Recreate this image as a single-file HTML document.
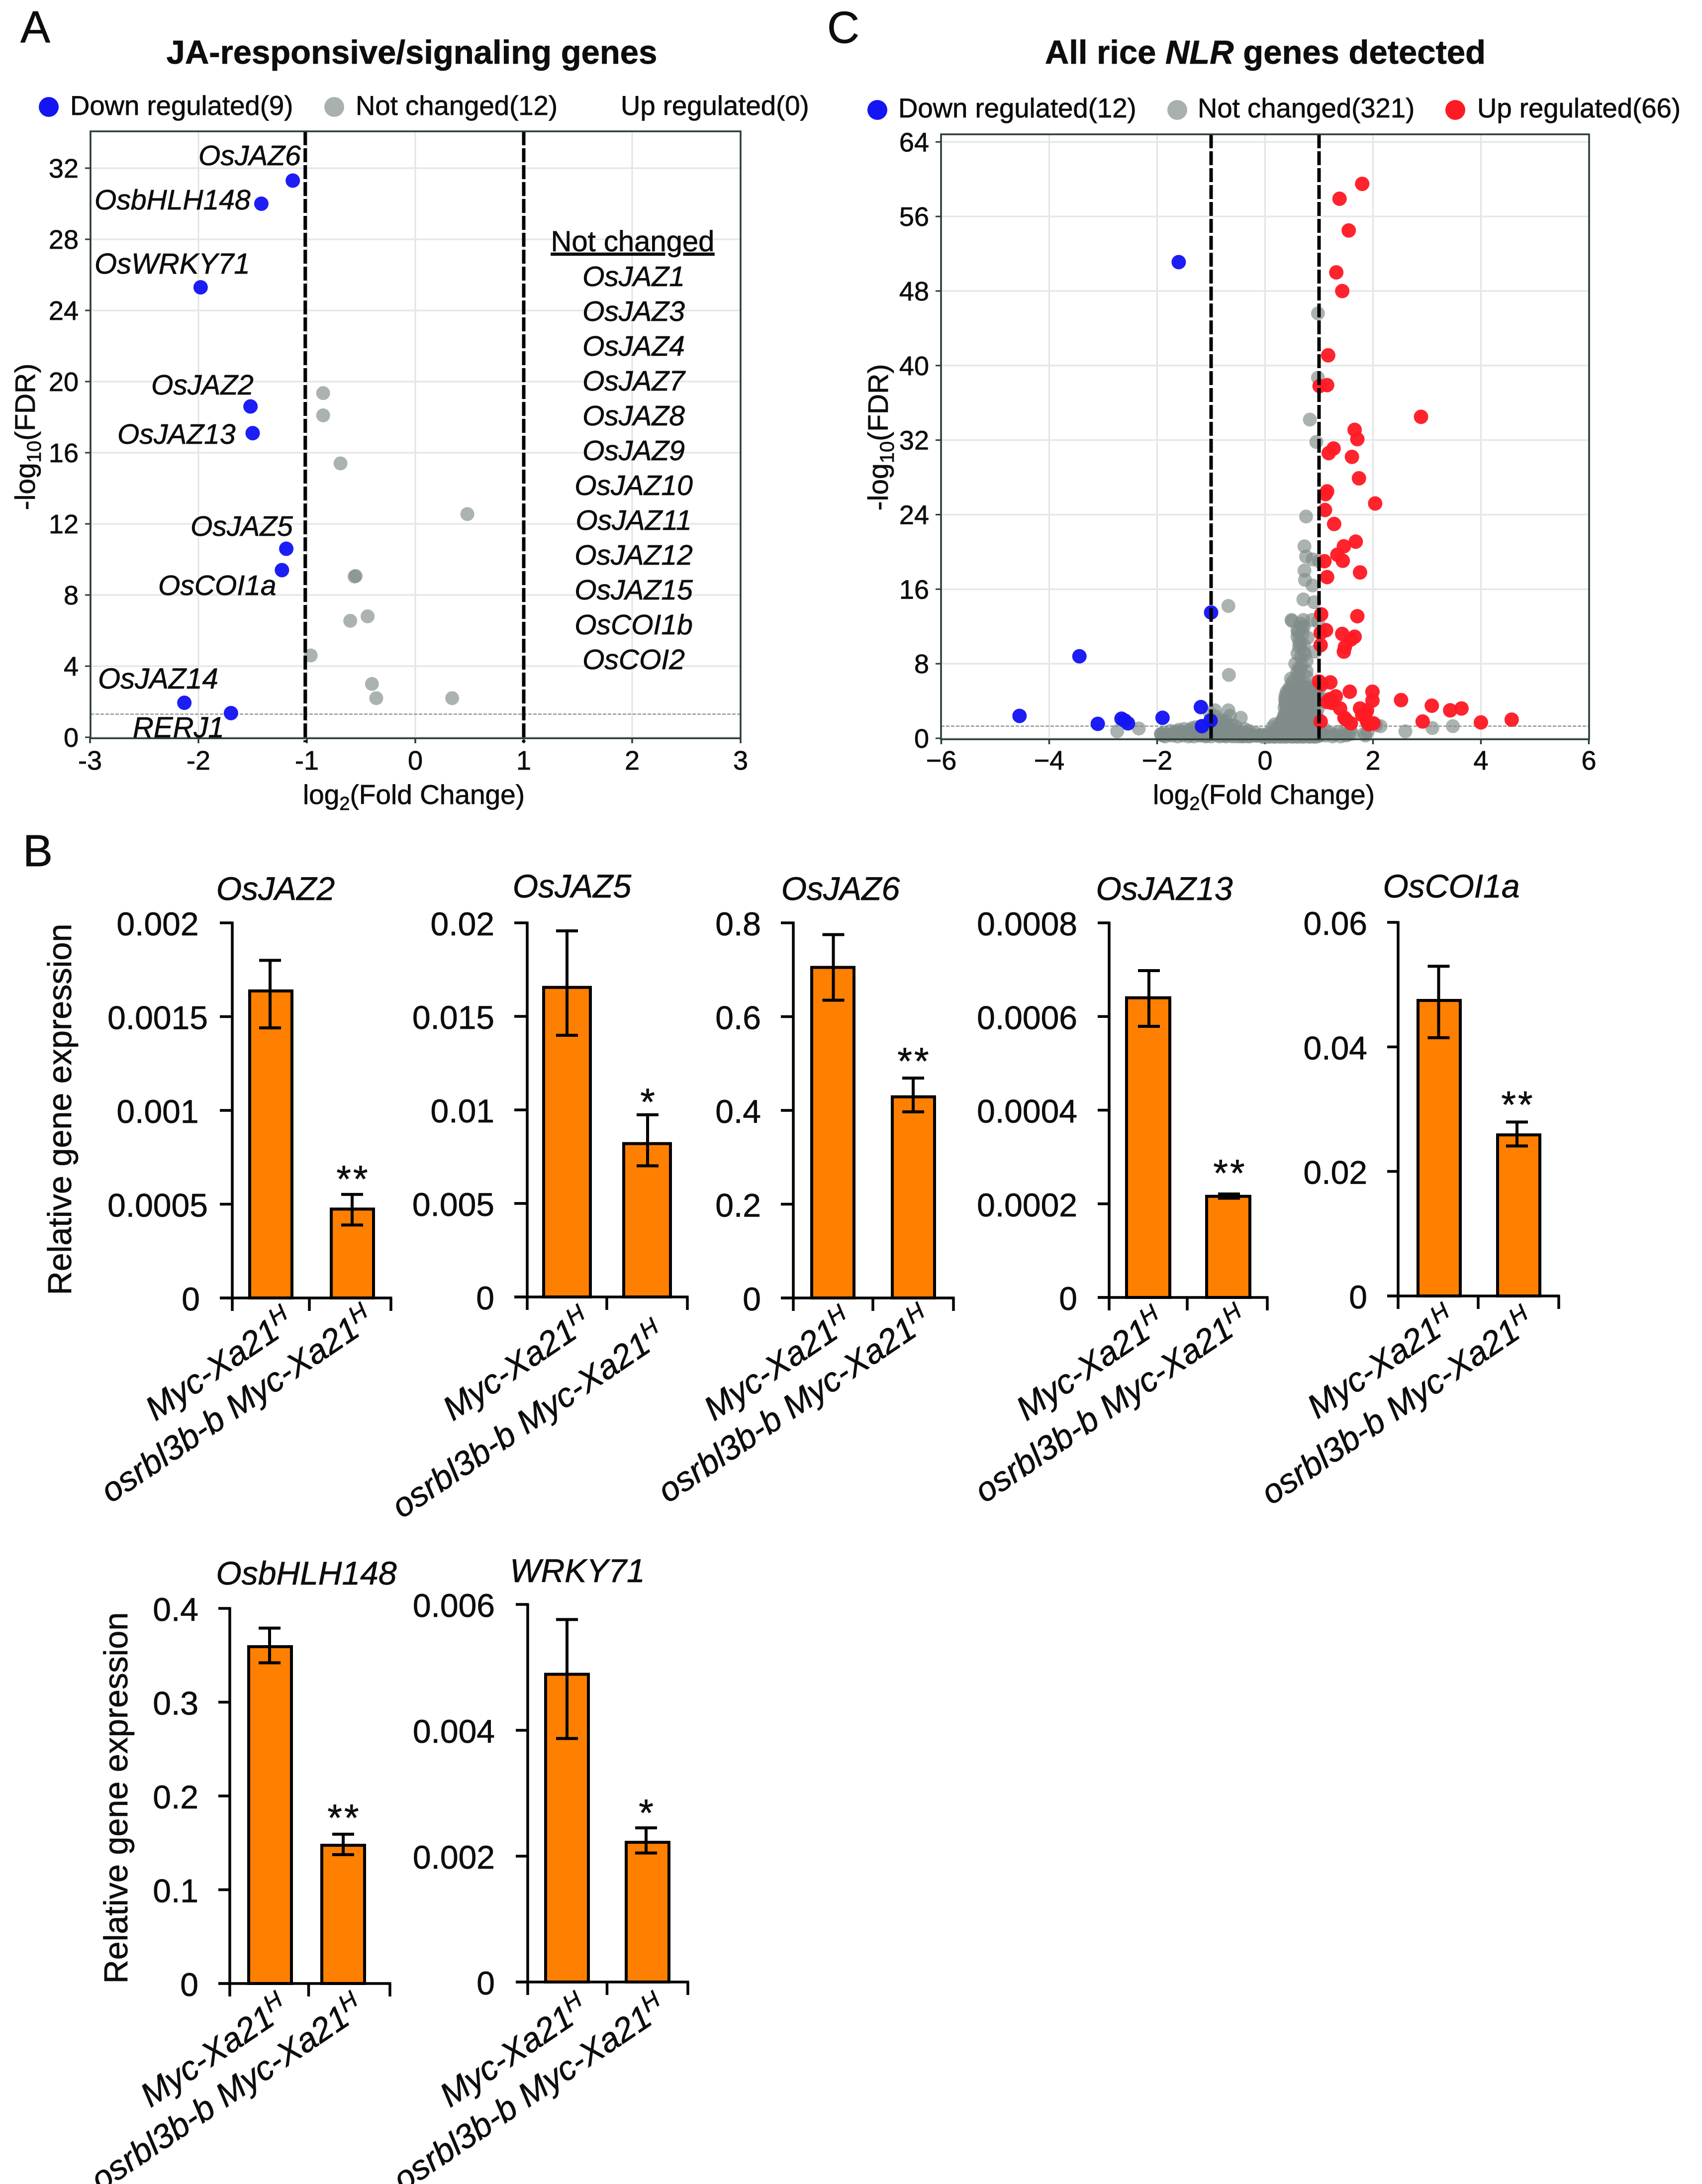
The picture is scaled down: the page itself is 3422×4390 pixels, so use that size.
<!DOCTYPE html>
<html lang="en">
<head>
<meta charset="utf-8">
<title>JA-responsive and NLR gene expression figure</title>
<style>
html,body{margin:0;padding:0;background:#fff;}
svg{display:block;}
text{font-family:"Liberation Sans",sans-serif;fill:#0d0d0d;stroke:#0d0d0d;stroke-width:0.7px;}
.it{font-style:italic;}
</style>
</head>
<body>
<svg id="figure" xmlns="http://www.w3.org/2000/svg" width="3422" height="4390" viewBox="0 0 3422 4390">
<rect x="0" y="0" width="3422" height="4390" fill="#fff"/>

<text x="41" y="85" font-size="90">A</text>
<text x="46" y="1741" font-size="90">B</text>
<text x="1663" y="86" font-size="90">C</text>

<text x="828" y="128" font-size="67" font-weight="bold" text-anchor="middle">JA-responsive/signaling genes</text>
<text x="2544" y="128" font-size="67" font-weight="bold" text-anchor="middle">All rice <tspan font-style="italic">NLR</tspan> genes detected</text>

<g id="panel-a"></g>
<g id="panel-c"></g>

<circle cx="98" cy="215" r="20" fill="#1414f5"/>
<text x="141" y="231" font-size="54.5">Down regulated(9)</text>
<circle cx="672" cy="215" r="20" fill="#a9b1ad"/>
<text x="715" y="231" font-size="54.5">Not changed(12)</text>
<text x="1248" y="231" font-size="54.5">Up regulated(0)</text>

<circle cx="1764" cy="221" r="20" fill="#1414f5"/>
<text x="1806" y="236" font-size="54.5">Down regulated(12)</text>
<circle cx="2367" cy="221" r="20" fill="#a9b1ad"/>
<text x="2408" y="236" font-size="54.5">Not changed(321)</text>
<circle cx="2926" cy="221" r="20" fill="#ff1a24"/>
<text x="2970" y="236" font-size="54.5">Up regulated(66)</text>

<text x="832" y="1616" font-size="55" text-anchor="middle">log<tspan dy="12" font-size="38">2</tspan><tspan dy="-12">(Fold Change)</tspan></text>
<text transform="translate(70,878) rotate(-90)" font-size="57" text-anchor="middle">-log<tspan dy="12" font-size="40">10</tspan><tspan dy="-12">(FDR)</tspan></text>
<text x="2541" y="1616" font-size="55" text-anchor="middle">log<tspan dy="12" font-size="38">2</tspan><tspan dy="-12">(Fold Change)</tspan></text>
<text transform="translate(1785,879) rotate(-90)" font-size="57" text-anchor="middle">-log<tspan dy="12" font-size="40">10</tspan><tspan dy="-12">(FDR)</tspan></text>

<g font-size="57" class="it">
<text class="it" x="399" y="332">OsJAZ6</text>
<text class="it" x="190" y="421">OsbHLH148</text>
<text class="it" x="190" y="550" font-size="58">OsWRKY71</text>
<text class="it" x="304" y="793">OsJAZ2</text>
<text class="it" x="236" y="892">OsJAZ13</text>
<text class="it" x="383" y="1077">OsJAZ5</text>
<text class="it" x="318" y="1196">OsCOI1a</text>
<text class="it" x="197" y="1384" font-size="58">OsJAZ14</text>
<text class="it" x="267" y="1482" font-size="58">RERJ1</text>
</g>
<g font-size="57" text-anchor="middle">
<text x="1272" y="505" font-size="58" text-decoration="underline">Not changed</text>
<text class="it" x="1274" y="575">OsJAZ1</text>
<text class="it" x="1274" y="645">OsJAZ3</text>
<text class="it" x="1274" y="715">OsJAZ4</text>
<text class="it" x="1274" y="785">OsJAZ7</text>
<text class="it" x="1274" y="855">OsJAZ8</text>
<text class="it" x="1274" y="925">OsJAZ9</text>
<text class="it" x="1274" y="995">OsJAZ10</text>
<text class="it" x="1274" y="1065">OsJAZ11</text>
<text class="it" x="1274" y="1135">OsJAZ12</text>
<text class="it" x="1274" y="1205">OsJAZ15</text>
<text class="it" x="1274" y="1275">OsCOI1b</text>
<text class="it" x="1274" y="1345">OsCOI2</text>
</g>

<text transform="translate(143,2230) rotate(-90)" font-size="66.5" text-anchor="middle">Relative gene expression</text>
<text transform="translate(256,3614) rotate(-90)" font-size="66.5" text-anchor="middle">Relative gene expression</text>

<g id="bar-charts"></g>
</svg>

<script>
/* ---------- Panel A values (log2 fold change, -log10 FDR) ---------- */
const aXTicks = [-3, -2, -1, 0, 1, 2, 3];
const aXTickLabels = ['-3', '-2', '-1', '0', '1', '2', '3'];
const aYTicks = [0, 4, 8, 12, 16, 20, 24, 28, 32];
const aThresholdsX = [-1.015, 1];
const aThresholdY = 1.3;
const aDownX = [-1.13, -1.42, -1.98, -1.52, -1.50, -1.19, -1.23, -2.13, -1.70];
const aDownY = [31.3, 30.0, 25.3, 18.6, 17.1, 10.6, 9.4, 1.94, 1.36];
const aSameX = [-0.85, -0.85, -0.69, 0.48, -0.55, -0.56, -0.44, -0.60, -0.965, -0.40, -0.36, 0.34];
const aSameY = [19.35, 18.1, 15.4, 12.55, 9.07, 9.04, 6.8, 6.55, 4.6, 3.0, 2.2, 2.2];

/* ---------- Panel C values ---------- */
const cXTicks = [-6, -4, -2, 0, 2, 4, 6];
const cXTickLabels = ['\u22126', '\u22124', '\u22122', '0', '2', '4', '6'];
const cYTicks = [0, 8, 16, 24, 32, 40, 48, 56, 64];
const cThresholdsX = [-1, 1];
const cThresholdY = 1.3;
const cDownX = [-1.6, -1.0, -3.44, -4.55, -3.1, -2.66, -2.54, -1.9, -1.19, -1.01, -1.17, -2.6];
const cDownY = [51.1, 13.5, 8.8, 2.4, 1.55, 2.1, 1.6, 2.2, 3.35, 1.9, 1.3, 1.9];
const cUpX = [1.80,1.38,1.55,1.32,1.43,1.17,1.15,1.01,2.89,1.66,1.71,1.27,1.18,1.61,1.74,1.15,1.12,2.04,1.11,1.28,
  1.68,1.46,1.34,1.44,1.10,1.76,1.15,1.71,1.04,1.13,1.03,1.43,1.66,1.59,1.48,1.46,1.03,1.21,1.05,1.57,
  1.99,1.31,1.99,1.15,2.52,1.39,3.09,3.43,3.64,1.76,1.89,1.47,1.59,2.92,4.0,4.57,1.03,1.89,2.01,1.8,
  1.86,1.92,1.2,1.24,1.5,1.0];
const cUpY = [59.5,57.9,54.5,50.0,48.0,41.1,37.9,37.8,34.5,33.1,32.1,31.1,30.6,30.2,27.9,26.5,26.2,25.2,24.5,23.0,
  21.1,20.6,19.7,19.05,19.0,17.8,17.3,13.1,13.3,11.6,11.3,11.2,10.9,10.6,9.8,9.3,10.0,6.0,5.8,5.0,
  5.0,4.5,4.05,3.9,4.1,3.2,3.5,3.0,3.2,3.2,3.0,2.2,1.6,1.8,1.7,2.0,1.8,1.8,1.6,2.5,
  2.6,1.5,4.2,3.8,2.0,6.1];
const cSameX = [
  0.98,0.98,0.83,0.95,0.76,0.73,0.76,0.88,1.0,0.73,0.74,0.88,0.71,0.91,-0.68,-0.67,0.5,
  -2.74,-2.34,-1.93,
  -1.93,-1.9,-1.88,-1.6,-1.55,-1.5,-1.45,-1.4,-1.38,-1.35,-1.3,-1.25,-1.2,-1.15,-1.12,-1.08,-1.05,-1.0,-0.97,-0.93,
  -0.9,-0.86,-0.82,-0.78,-0.75,-0.7,-0.66,-0.62,-0.58,-0.54,-0.5,-0.46,-0.42,-0.38,-0.34,-0.3,-0.26,-0.22,-0.18,-0.14,
  -0.1,-0.06,-0.02,0.02,0.05,0.08,-1.7,-1.65,-1.75,-1.28,-1.18,-0.95,-0.84,-0.72,-0.68,-0.6,-0.55,-0.45,-0.4,-0.32,
  -0.93,-0.9,-0.87,-0.8,-0.68,-0.65,-0.72,-0.45,-0.62,-0.75,-0.85,-1.02,
  0.11,0.15,0.19,0.23,0.27,0.31,0.35,0.39,0.43,0.47,0.51,0.55,0.59,0.63,0.67,0.71,0.75,0.79,0.83,0.87,0.91,0.95,
  0.14,0.18,0.22,0.3,0.3,0.34,0.38,0.42,0.46,0.5,0.54,0.58,0.62,0.66,0.7,0.74,0.78,0.82,0.86,0.9,0.94,0.98,
  0.34,0.36,0.38,0.4,0.37,0.4,0.44,0.48,0.52,0.56,0.6,0.64,0.68,0.72,0.76,0.8,0.84,0.88,0.92,0.96,
  0.36,0.38,0.4,0.38,0.42,0.46,0.5,0.54,0.58,0.62,0.66,0.7,0.74,0.78,0.82,0.86,0.9,0.94,0.98,
  0.38,0.4,0.4,0.44,0.48,0.52,0.56,0.6,0.64,0.68,0.72,0.76,0.8,0.84,0.88,0.92,0.96,
  0.49,0.71,0.87,0.98,0.69,0.61,0.79,0.63,0.63,0.71,0.66,0.93,0.56,0.77,0.77,0.48,0.77,0.63,0.62,0.68,0.74,0.6,0.6,0.7,0.65,0.72,0.5,0.62,0.75,0.67,0.66,0.72,0.6,
  1.05,1.12,1.2,1.28,1.36,1.44,1.5,1.58,1.62,1.84,1.9,1.86,2.06,2.14,2.01,2.6,3.1,3.48,1.02,1.1,1.25,1.4,1.55,
  -1.85,-1.78,-1.72,-1.62,-1.52,-1.42,-1.32,-1.22,-1.1,-1.0,-0.88,-0.76,-0.64,-0.52,-0.4,-0.28,-0.16,-0.04,0.06,0.12,0.17,0.22,0.28,0.33,0.38,0.44,0.5,0.55,0.6,0.66,0.7,0.76,0.82,0.88,0.92,0.97,1.0,
  0.24,0.29,0.35,0.41,0.47,0.53,0.59,0.65,0.71,0.77,0.83,0.89,0.95,0.37,0.43,0.49,0.55,0.61,0.67,0.73,0.79,0.85,0.91,0.97,0.45,0.51,0.57,0.63,0.69,0.75,0.81,0.87,0.93,0.99,0.53,0.59,0.65];
const cSameY = [
  45.6,38.7,34.2,31.8,23.8,20.6,19.5,19.2,19.0,18.0,17.0,16.4,14.9,14.6,14.2,6.8,12.6,
  0.75,1.05,0.45,
  0.45,0.3,0.6,0.9,0.6,1.0,0.6,0.9,0.4,1.1,0.7,0.5,0.8,0.5,1.1,0.3,0.7,0.5,0.9,0.4,
  0.7,0.4,1.0,0.5,0.3,0.8,0.5,0.4,0.9,0.6,0.4,0.7,0.3,1.0,0.5,0.8,0.4,0.3,0.6,0.3,
  0.3,0.4,0.2,0.3,0.5,0.2,0.5,0.7,0.8,1.2,0.3,1.3,0.2,0.2,1.2,0.2,1.3,0.2,0.2,0.2,
  3.0,2.3,1.6,1.9,3.0,2.4,1.8,2.2,1.4,1.5,1.9,2.7,
  0.5,0.3,0.7,0.9,0.4,0.6,0.8,0.3,1.0,0.5,0.7,0.4,0.9,0.6,0.3,0.8,0.5,0.7,0.4,0.6,0.3,0.5,
  1.2,1.5,1.1,1.8,1.3,2.0,1.6,1.2,1.9,1.4,2.1,1.7,1.1,1.9,1.4,2.0,1.2,1.7,1.5,1.1,1.8,1.4,
  2.2,2.6,2.3,2.9,2.4,2.7,3.0,2.3,2.8,2.5,3.1,2.2,2.7,3.0,2.4,2.8,2.3,3.0,2.6,2.4,
  3.3,3.7,3.2,3.9,3.5,3.2,4.0,3.6,3.3,3.8,3.4,4.0,3.2,3.7,3.5,3.9,3.3,3.6,3.2,
  4.6,5.0,4.4,5.1,4.7,4.3,5.2,4.8,4.5,5.1,4.4,4.9,5.2,4.6,5.0,4.4,4.8,
  12.7,12.7,12.7,12.5,11.9,11.4,10.8,10.4,9.8,9.3,8.7,9.3,8.0,8.3,7.2,6.4,6.6,6.8,7.5,7.8,9.0,10.9,11.6,11.2,10.1,10.0,5.9,6.1,5.8,5.6,12.3,12.0,9.1,
  0.5,0.3,0.6,0.4,0.7,0.5,0.3,0.8,0.5,0.5,0.7,0.3,1.4,1.3,1.6,0.75,1.1,1.3,0.3,1.0,0.2,0.2,0.4,
  0.2,0.4,0.3,0.2,0.3,0.2,0.2,0.3,0.2,0.2,0.3,0.25,0.3,0.2,0.3,0.2,0.25,0.15,0.15,0.2,0.15,0.2,0.15,0.2,0.15,0.2,0.15,0.2,0.15,0.2,0.15,0.2,0.15,0.2,0.15,0.2,0.3,
  1.0,1.6,2.2,1.6,2.6,3.4,2.0,3.2,2.2,3.4,2.6,3.5,2.0,4.2,4.8,3.6,4.4,5.0,3.8,4.6,4.2,5.1,3.9,4.4,5.4,5.3,5.5,5.5,5.3,5.5,5.4,5.2,5.3,5.0,6.2,7.0,7.4];

/* ---------- Panel B values ---------- */
const barCategories = ['Myc-Xa21', 'osrbl3b-b Myc-Xa21'];
const jaz2Means = [0.001637, 0.000474];
const jaz2ErrHigh = [0.0018, 0.000552];
const jaz2ErrLow = [0.00144, 0.000389];
const jaz2Ticks = ['0', '0.0005', '0.001', '0.0015', '0.002'];
const jaz2Stars = ['', '**'];
const jaz5Means = [0.01655, 0.0082];
const jaz5ErrHigh = [0.01957, 0.00974];
const jaz5ErrLow = [0.01399, 0.00701];
const jaz5Ticks = ['0', '0.005', '0.01', '0.015', '0.02'];
const jaz5Stars = ['', '*'];
const jaz6Means = [0.705, 0.429];
const jaz6ErrHigh = [0.775, 0.469];
const jaz6ErrLow = [0.635, 0.397];
const jaz6Ticks = ['0', '0.2', '0.4', '0.6', '0.8'];
const jaz6Stars = ['', '**'];
const jaz13Means = [0.00064, 0.000216];
const jaz13ErrHigh = [0.000698, 0.000221];
const jaz13ErrLow = [0.000579, 0.000212];
const jaz13Ticks = ['0', '0.0002', '0.0004', '0.0006', '0.0008'];
const jaz13Stars = ['', '**'];
const coi1aMeans = [0.04746, 0.02587];
const coi1aErrHigh = [0.05295, 0.02793];
const coi1aErrLow = [0.04147, 0.02409];
const coi1aTicks = ['0', '0.02', '0.04', '0.06'];
const coi1aStars = ['', '**'];
const bhlhMeans = [0.3592, 0.1474];
const bhlhErrHigh = [0.379, 0.1592];
const bhlhErrLow = [0.342, 0.1374];
const bhlhTicks = ['0', '0.1', '0.2', '0.3', '0.4'];
const bhlhStars = ['', '**'];
const wrkyMeans = [0.00489, 0.00222];
const wrkyErrHigh = [0.00576, 0.00245];
const wrkyErrLow = [0.00387, 0.00205];
const wrkyTicks = ['0', '0.002', '0.004', '0.006'];
const wrkyStars = ['', '*'];

const SVGNS = 'http://www.w3.org/2000/svg';
function make(tag, attrs, parent, content) {
  const node = document.createElementNS(SVGNS, tag);
  for (const key in attrs) node.setAttribute(key, attrs[key]);
  if (content !== undefined) node.textContent = content;
  parent.appendChild(node);
  return node;
}

function drawVolcano(root, p) {
  const sx = v => p.x0 + v * p.xUnit;
  const sy = v => p.y0 - v * p.yUnit;
  p.xTicks.forEach((t, i) => {
    const grid = make('line', {x1: sx(t), x2: sx(t), y1: p.top, y2: p.bottom, stroke: '#e2e4e4', 'stroke-width': 3}, root);
    
    
    const tick = make('line', {x1: sx(t), x2: sx(t), y1: p.bottom, y2: p.bottom + 10, stroke: '#2a3a3a', 'stroke-width': 3.5}, root);
    
    
    const label = make('text', {x: sx(t), y: 1547, 'font-size': 54, 'text-anchor': 'middle'}, root, p.xLabels[i]);
    
    
  });
  p.yTicks.forEach(t => {
    const grid = make('line', {x1: p.left, x2: p.right, y1: sy(t), y2: sy(t), stroke: '#e6e8e8', 'stroke-width': 3.5}, root);
    
    
    const tick = make('line', {x1: p.left - 11, x2: p.left, y1: sy(t), y2: sy(t), stroke: '#2a3a3a', 'stroke-width': 3}, root);
    
    
    const label = make('text', {x: p.left - 24, y: sy(t) + 19, 'font-size': 54, 'text-anchor': 'end'}, root, String(t));
    
    
  });
  const fdr = make('line', {x1: p.left, x2: p.right, y1: sy(p.thresholdY), y2: sy(p.thresholdY), stroke: '#8b9a98', 'stroke-width': 2.5, 'stroke-dasharray': '7 3'}, root);
  
  
  p.sameX.forEach((x, i) => {
    const dot = make('circle', {cx: sx(x), cy: sy(p.sameY[i]), r: 14, fill: '#7f8b88', 'fill-opacity': 0.66}, root);
    
    
  });
  p.downX.forEach((x, i) => {
    const dot = make('circle', {cx: sx(x), cy: sy(p.downY[i]), r: 14.5, fill: '#1414f5', 'fill-opacity': 0.96}, root);
    
    
  });
  p.upX.forEach((x, i) => {
    const dot = make('circle', {cx: sx(x), cy: sy(p.upY[i]), r: 14.5, fill: '#ff1a24', 'fill-opacity': 0.96}, root);
    
    
  });
  p.thresholdsX.forEach(t => {
    const dash = make('line', {x1: sx(t), x2: sx(t), y1: p.top, y2: p.bottom + 8, stroke: '#000', 'stroke-width': 7, 'stroke-dasharray': '28 6'}, root);
    
    
  });
  const frame = make('rect', {x: p.left, y: p.top, width: p.right - p.left, height: p.bottom - p.top, fill: 'none', stroke: '#2a3a3a', 'stroke-width': 3.5}, root);
  
  
}

drawVolcano(document.getElementById('panel-a'), {
  left: 182, right: 1489, top: 264, bottom: 1484, x0: 835, xUnit: 218, y0: 1482, yUnit: 35.75,
  xTicks: aXTicks, xLabels: aXTickLabels, yTicks: aYTicks, thresholdY: aThresholdY, thresholdsX: aThresholdsX,
  sameX: aSameX, sameY: aSameY, downX: aDownX, downY: aDownY, upX: [], upY: []
});
drawVolcano(document.getElementById('panel-c'), {
  left: 1892, right: 3195, top: 270, bottom: 1486, x0: 2543.5, xUnit: 108.5, y0: 1484, yUnit: 18.73,
  xTicks: cXTicks, xLabels: cXTickLabels, yTicks: cYTicks, thresholdY: cThresholdY, thresholdsX: cThresholdsX,
  sameX: cSameX, sameY: cSameY, downX: cDownX, downY: cDownY, upX: cUpX, upY: cUpY
});

function drawBarChart(root, c) {
  const g = make('g', {}, root);
  
  
  const sy = v => c.bottom - v / c.maxValue * (c.bottom - c.top);
  const title = make('text', {x: c.titleX, y: c.titleY, 'font-size': 66, 'font-style': 'italic', 'text-anchor': 'middle'}, g, c.title);
  
  
  c.means.forEach((m, i) => {
    const bar = make('rect', {x: c.barLeft[i], y: sy(m), width: c.barWidth, height: c.bottom - sy(m), fill: '#ff7f00', stroke: '#000', 'stroke-width': 6}, g);
    
    
    const ex = c.errX[i];
    const stem = make('line', {x1: ex, x2: ex, y1: sy(c.errHigh[i]), y2: sy(c.errLow[i]), stroke: '#000', 'stroke-width': 6}, g);
    
    
    [c.errHigh[i], c.errLow[i]].forEach(v => {
      const cap = make('line', {x1: ex - 22, x2: ex + 22, y1: sy(v), y2: sy(v), stroke: '#000', 'stroke-width': 6}, g);
      
      
    });
    if (c.stars[i]) {
      const star = make('text', {x: ex + 2, y: sy(c.errHigh[i]) - c.starGap + 36, 'font-size': 76, 'letter-spacing': 4, 'text-anchor': 'middle'}, g, c.stars[i]);
      
      
    }
    const label = make('text', {transform: 'translate(' + c.labelEndX[i] + ',' + c.labelEndY[i] + ') rotate(-34)', 'font-size': 68, 'font-style': 'italic', 'text-anchor': 'end'}, g, barCategories[i]);
    
    
    const sup = make('tspan', {dy: -24, 'font-size': 48}, label, 'H');
    
    
  });
  const axisY = make('line', {x1: c.axisX, x2: c.axisX, y1: c.top - 2.5, y2: c.bottom, stroke: '#000', 'stroke-width': 5.5}, g);
  
  
  const axisX = make('line', {x1: c.tickLeft, x2: c.xTicks[2] + 2.5, y1: c.bottom, y2: c.bottom, stroke: '#000', 'stroke-width': 5.5}, g);
  
  
  c.xTicks.forEach(x => {
    const tick = make('line', {x1: x, x2: x, y1: c.bottom, y2: c.bottom + 26, stroke: '#000', 'stroke-width': 5.5}, g);
    
    
  });
  c.ticks.forEach(t => {
    const v = parseFloat(t);
    const tick = make('line', {x1: c.tickLeft, x2: c.axisX, y1: sy(v), y2: sy(v), stroke: '#000', 'stroke-width': 5.5}, g);
    
    
    const centred = c.labelMiddle && v !== 0;
    const label = make('text', {x: centred ? c.labelMiddle : c.labelRight, y: sy(v) + 25, 'font-size': 66, 'text-anchor': centred ? 'middle' : 'end'}, g, t);
    
    
  });
}

const barRoot = document.getElementById('bar-charts');
drawBarChart(barRoot, {name: 'osjaz2', title: 'OsJAZ2', maxValue: 0.002, means: jaz2Means, errHigh: jaz2ErrHigh, errLow: jaz2ErrLow, ticks: jaz2Ticks, stars: jaz2Stars,
  axisX: 467, top: 1855, bottom: 2609, tickLeft: 442, xTicks: [467, 622, 786], barLeft: [502, 666], barWidth: 85, errX: [543, 708], starGap: 41,
  labelRight: 402, labelMiddle: 317, titleX: 554, titleY: 1809, labelEndX: [595, 756], labelEndY: [2667, 2663]});
drawBarChart(barRoot, {name: 'osjaz5', title: 'OsJAZ5', maxValue: 0.02, means: jaz5Means, errHigh: jaz5ErrHigh, errLow: jaz5ErrLow, ticks: jaz5Ticks, stars: jaz5Stars,
  axisX: 1060, top: 1855, bottom: 2607, tickLeft: 1034, xTicks: [1060, 1220, 1382], barLeft: [1093, 1254], barWidth: 94, errX: [1140, 1302], starGap: 36,
  labelRight: 994, titleX: 1150, titleY: 1804, labelEndX: [1193, 1341], labelEndY: [2667, 2694]});
drawBarChart(barRoot, {name: 'osjaz6', title: 'OsJAZ6', maxValue: 0.8, means: jaz6Means, errHigh: jaz6ErrHigh, errLow: jaz6ErrLow, ticks: jaz6Ticks, stars: jaz6Stars,
  axisX: 1595, top: 1855, bottom: 2609, tickLeft: 1570, xTicks: [1595, 1755, 1917], barLeft: [1632, 1794], barWidth: 85, errX: [1675.5, 1836], starGap: 44,
  labelRight: 1530, titleX: 1690, titleY: 1809, labelEndX: [1718, 1876], labelEndY: [2667, 2663]});
drawBarChart(barRoot, {name: 'osjaz13', title: 'OsJAZ13', maxValue: 0.0008, means: jaz13Means, errHigh: jaz13ErrHigh, errLow: jaz13ErrLow, ticks: jaz13Ticks, stars: jaz13Stars,
  axisX: 2230, top: 1855, bottom: 2608, tickLeft: 2207, xTicks: [2230, 2387, 2548], barLeft: [2265, 2426], barWidth: 87, errX: [2310, 2471], starGap: 52,
  labelRight: 2166, titleX: 2341, titleY: 1809, labelEndX: [2346, 2513], labelEndY: [2667, 2663]});
drawBarChart(barRoot, {name: 'oscoi1a', title: 'OsCOI1a', maxValue: 0.06, means: coi1aMeans, errHigh: coi1aErrHigh, errLow: coi1aErrLow, ticks: coi1aTicks, stars: coi1aStars,
  axisX: 2811, top: 1854, bottom: 2605, tickLeft: 2789, xTicks: [2811, 2972, 3134], barLeft: [2851, 3011], barWidth: 85, errX: [2892.5, 3050], starGap: 45,
  labelRight: 2749, titleX: 2918, titleY: 1804, labelEndX: [2931, 3089], labelEndY: [2663, 2667]});
drawBarChart(barRoot, {name: 'osbhlh148', title: 'OsbHLH148', maxValue: 0.4, means: bhlhMeans, errHigh: bhlhErrHigh, errLow: bhlhErrLow, ticks: bhlhTicks, stars: bhlhStars,
  axisX: 462, top: 3233, bottom: 3987, tickLeft: 439, xTicks: [462, 620.5, 784], barLeft: [500, 647], barWidth: 86, errX: [542, 690], starGap: 43,
  labelRight: 399, titleX: 616, titleY: 3185, labelEndX: [585, 736], labelEndY: [4047, 4047]});
drawBarChart(barRoot, {name: 'wrky71', title: 'WRKY71', maxValue: 0.006, means: wrkyMeans, errHigh: wrkyErrHigh, errLow: wrkyErrLow, ticks: wrkyTicks, stars: wrkyStars,
  axisX: 1061, top: 3225, bottom: 3984, tickLeft: 1037, xTicks: [1061, 1220.5, 1383], barLeft: [1097, 1259], barWidth: 86, errX: [1140, 1299], starGap: 40,
  labelRight: 995, titleX: 1161, titleY: 3180, labelEndX: [1187, 1344], labelEndY: [4047, 4047]});
</script>
</body>
</html>
